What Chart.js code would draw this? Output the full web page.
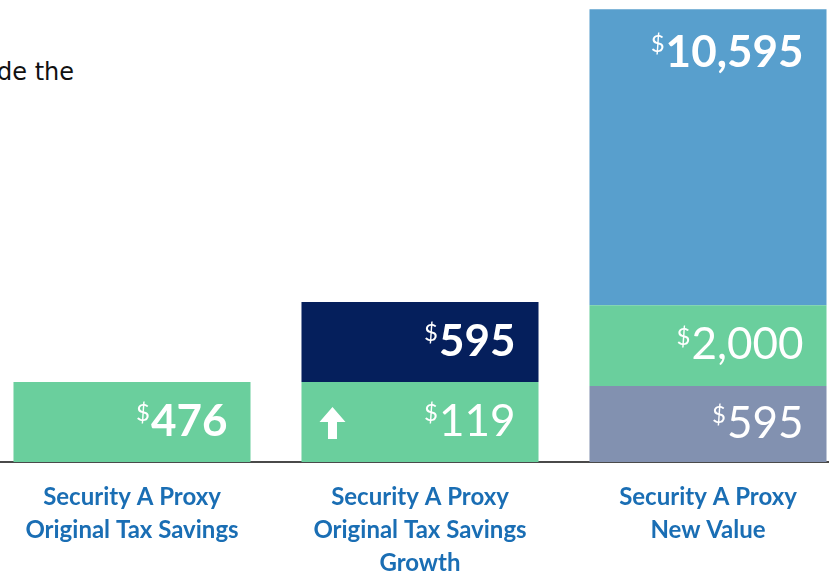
<!DOCTYPE html>
<html>
<head>
<meta charset="utf-8">
<script src="https://cdn.jsdelivr.net/npm/chart.js@4.4.1/dist/chart.umd.min.js"></script>
<style>
  html, body { margin: 0; padding: 0; background: #fff; overflow: hidden; }
  body { width: 829px; height: 576px; position: relative; }
  #intro {
    position: absolute; left: -3px; top: 60px;
    font: 24px/24px "DejaVu Sans", sans-serif; color: #111; white-space: nowrap;
  }
  #chart { position: absolute; left: -12px; top: 0; }
</style>
</head>
<body>
<div id="intro">de the</div>
<canvas id="chart" width="864" height="598"></canvas>
<script>
// categories (multi-line tick labels)
const categories = [
  ["Security A Proxy", "Original Tax Savings"],
  ["Security A Proxy", "Original Tax Savings", "Growth"],
  ["Security A Proxy", "New Value"],
];

// segment sizes as drawn (the picture is not to scale, so these are block units)
const bottomSizes = [1.0, 1.0, 0.95];
const middleSizes = [null, 1.0, 1.01];
const topSizes = [null, null, 3.7];

// printed values
const bottomLabels = ["476", "119", "595"];
const middleLabels = [null, "595", "2,000"];
const topLabels = [null, null, "10,595"];

const bottomBold = [true, false, false];
const middleBold = [false, true, false];
const topBold = [false, false, true];

const bottomArrow = [false, true, false];

const GREEN = "#6ACF9D";
const NAVY = "#051F5C";
const BLUE = "#589FCD";
const GREY = "#8291B0";
const LABEL_BLUE = "#1A6EB4";

const bottomColors = [GREEN, GREEN, GREY];
const middleColors = [null, NAVY, GREEN];
const topColors = [null, null, BLUE];

const segLabels = [bottomLabels, middleLabels, topLabels];
const segBold = [bottomBold, middleBold, topBold];

function drawUpArrow(ctx, cx, cy) {
  ctx.save();
  ctx.fillStyle = "#fff";
  ctx.beginPath();
  ctx.moveTo(cx, cy - 15);
  ctx.lineTo(cx + 13, cy);
  ctx.lineTo(cx + 4.5, cy);
  ctx.lineTo(cx + 4.5, cy + 17);
  ctx.lineTo(cx - 4.5, cy + 17);
  ctx.lineTo(cx - 4.5, cy);
  ctx.lineTo(cx - 13, cy);
  ctx.closePath();
  ctx.fill();
  ctx.restore();
}

const valueLabels = {
  id: "valueLabels",
  afterDatasetsDraw(chart) {
    const ctx = chart.ctx;
    ctx.save();
    chart.data.datasets.forEach((ds, di) => {
      const meta = chart.getDatasetMeta(di);
      meta.data.forEach((bar, i) => {
        const txt = segLabels[di][i];
        if (txt == null) return;
        const top = Math.min(bar.y, bar.base);
        const bottom = Math.max(bar.y, bar.base);
        const right = bar.x + bar.width / 2 - 23;
        const cy = di === 2 ? top + 42 : (top + bottom) / 2 - 2;
        const size = 44;
        const capH = size * 0.72;
        ctx.fillStyle = "#fff";
        ctx.textAlign = "right";
        ctx.textBaseline = "alphabetic";
        ctx.font = (segBold[di][i] ? "bold " : "") + size + "px Lato, sans-serif";
        ctx.fillText(txt, right, cy + capH / 2);
        const w = ctx.measureText(txt).width;
        ctx.font = "24px Lato, sans-serif";
        ctx.fillText("$", right - w - 1, cy - capH / 2 + 17);
        if (di === 0 && bottomArrow[i]) {
          drawUpArrow(ctx, bar.x - bar.width / 2 + 31, (top + bottom) / 2);
        }
      });
    });
    ctx.restore();
  },
};

new Chart(document.getElementById("chart"), {
  type: "bar",
  data: {
    labels: categories,
    datasets: [
      { data: bottomSizes, backgroundColor: bottomColors },
      { data: middleSizes, backgroundColor: middleColors },
      { data: topSizes, backgroundColor: topColors },
    ],
  },
  options: {
    responsive: false,
    animation: false,
    devicePixelRatio: 1,
    layout: { padding: 0 },
    datasets: {
      bar: { barPercentage: 0.823, categoryPercentage: 1.0, borderWidth: 0 },
    },
    plugins: { legend: { display: false }, tooltip: { enabled: false } },
    scales: {
      x: {
        stacked: true,
        grid: { display: false, drawTicks: false },
        border: { display: true, color: "#4a4a4a", width: 2 },
        ticks: {
          color: LABEL_BLUE,
          padding: 18.5,
          font: { family: "Lato", weight: "bold", size: 24, lineHeight: 1.375 },
        },
      },
      y: { stacked: true, display: false, min: 0, max: 5.775 },
    },
  },
  plugins: [valueLabels],
});
</script>
</body>
</html>
